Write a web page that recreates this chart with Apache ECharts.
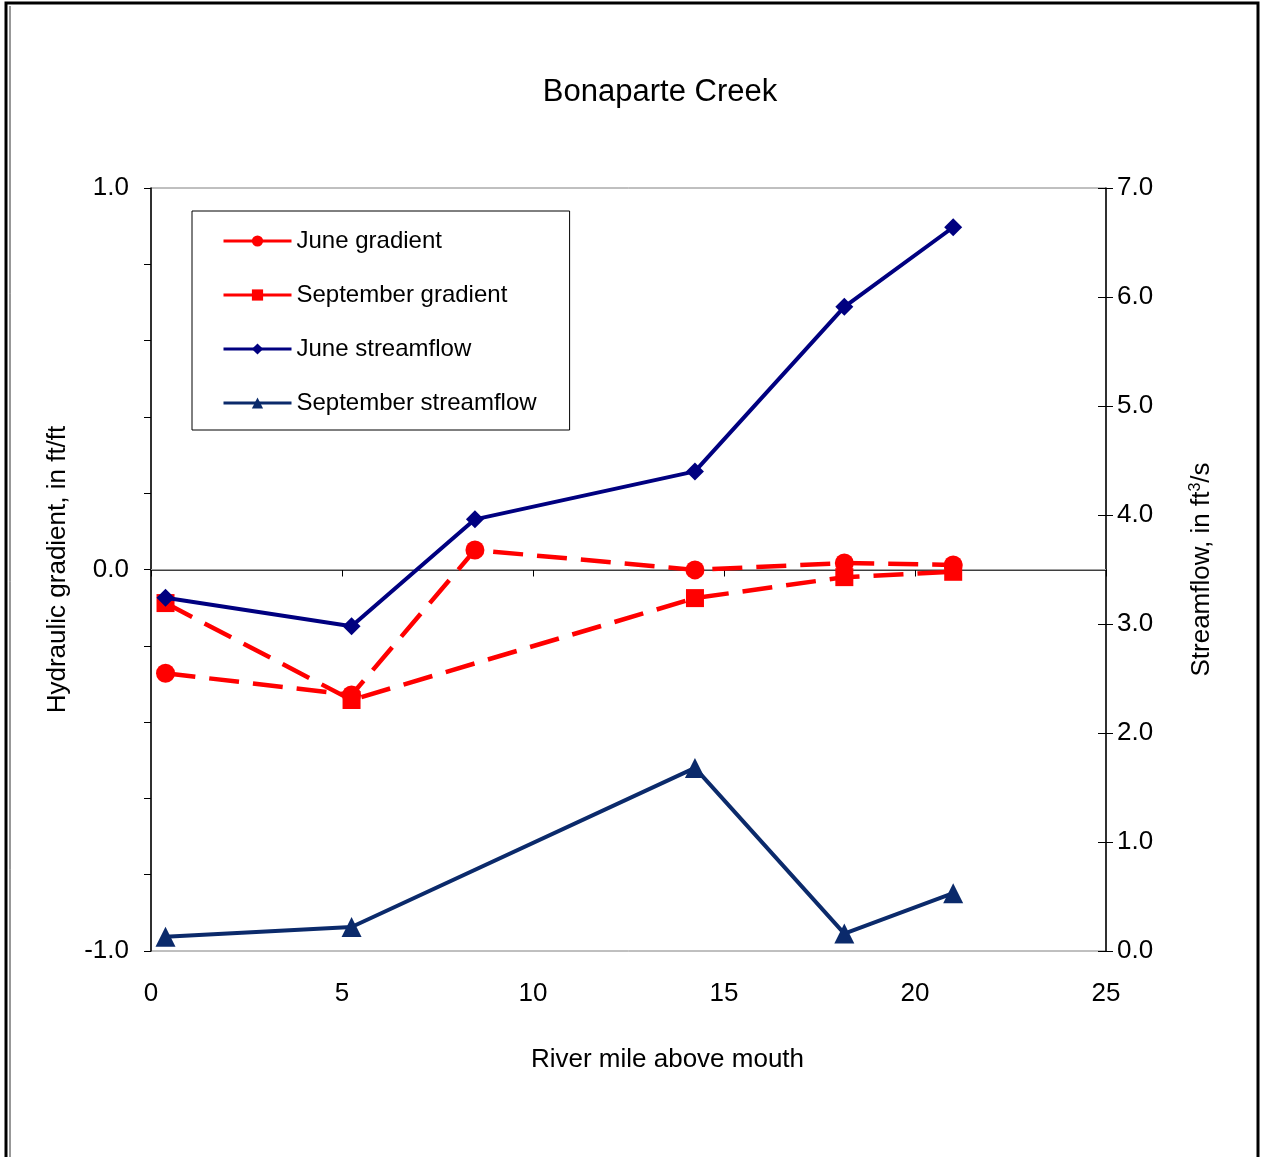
<!DOCTYPE html>
<html>
<head>
<meta charset="utf-8">
<script src="https://cdn.jsdelivr.net/npm/echarts@6/dist/echarts.min.js"></script>
<style>html,body{margin:0;padding:0;background:#fff}#c{width:1264px;height:1157px}</style>
</head>
<body>
<div id="c"></div>
<script>
var riverMileJune = [0.38, 5.25, 8.48, 14.24, 18.15, 21.0];
var riverMileSept = [0.38, 5.25, 14.24, 18.15, 21.0];
var juneGradient = [-0.272, -0.329, 0.051, -0.001, 0.017, 0.012];
var septGradient = [-0.088, -0.342, -0.075, -0.02, -0.006];
var juneStreamflow = [3.24, 2.98, 3.96, 4.40, 5.91, 6.64];
var septStreamflow = [0.13, 0.22, 1.68, 0.16, 0.53];
var seriesNames = ['June gradient', 'September gradient', 'June streamflow', 'September streamflow'];

function pairs(xs, ys) { return xs.map(function (x, i) { return [x, ys[i]]; }); }

var FONT = 'Liberation Sans, Arial, sans-serif';
var chart = echarts.init(document.getElementById('c'), null, {renderer: 'canvas'});
chart.setOption({
  backgroundColor: '#fff',
  animation: false,
  textStyle: {fontFamily: FONT, color: '#000'},
  title: {
    text: 'Bonaparte Creek', left: 655, top: 72, textAlign: 'center',
    textStyle: {fontFamily: FONT, fontSize: 31, fontWeight: 'normal', color: '#000'}
  },
  graphic: [
    {type: 'rect', shape: {x: 6, y: 3, width: 1252, height: 1200}, style: {fill: 'none', stroke: '#000', lineWidth: 3}, silent: true},
    {type: 'line', shape: {x1: 10, y1: 6, x2: 10, y2: 1157}, style: {stroke: '#333', lineWidth: 1}, silent: true}
  ],
  legend: {
    orient: 'vertical', left: 192, top: 211,
    padding: [18, 33, 15, 30],
    itemGap: 30, itemWidth: 68, itemHeight: 14,
    backgroundColor: '#fff', borderColor: '#000', borderWidth: 1,
    textStyle: {fontFamily: FONT, fontSize: 24, lineHeight: 24, color: '#000'},
    lineStyle: {type: 'solid', width: 3},
    data: seriesNames
  },
  grid: {left: 151, top: 188, right: 158, bottom: 206, show: true, borderColor: '#808080', borderWidth: 1, backgroundColor: 'transparent'},
  xAxis: {
    type: 'value', min: 0, max: 25, interval: 5,
    name: 'River mile above mouth', nameLocation: 'middle', nameGap: 96,
    nameTextStyle: {fontFamily: FONT, fontSize: 26, color: '#000', padding: [0, 0, 0, 78]},
    axisLine: {lineStyle: {color: '#000', width: 1.5}},
    axisTick: {show: true, inside: false, length: 7, lineStyle: {color: '#000'}},
    axisLabel: {fontFamily: FONT, fontSize: 26, color: '#000', margin: 30},
    splitLine: {show: false}
  },
  yAxis: [
    {
      type: 'value', position: 'left', min: -1, max: 1, interval: 1,
      name: 'Hydraulic gradient, in ft/ft', nameLocation: 'middle', nameGap: 80, nameRotate: 90,
      nameTextStyle: {fontFamily: FONT, fontSize: 26, color: '#000'},
      axisLine: {show: true, lineStyle: {color: '#000', width: 1.5}},
      axisTick: {show: true, inside: false, length: 7, lineStyle: {color: '#000'}},
      minorTick: {show: true, splitNumber: 5, length: 7, lineStyle: {color: '#000'}},
      axisLabel: {fontFamily: FONT, fontSize: 26, color: '#000', margin: 22, formatter: function (v) { return v.toFixed(1); }},
      splitLine: {show: false}
    },
    {
      type: 'value', position: 'right', min: 0, max: 7, interval: 1,
      name: 'Streamflow, in ft{sup|3}/s', nameLocation: 'middle', nameGap: 82, nameRotate: 90,
      nameTextStyle: {fontFamily: FONT, fontSize: 26, color: '#000', rich: {sup: {fontSize: 16, verticalAlign: 'top', padding: [0, 0, 12, 0], fontFamily: FONT}}},
      axisLine: {show: true, lineStyle: {color: '#000', width: 1.5}},
      axisTick: {show: true, inside: false, length: 7, lineStyle: {color: '#000'}},
      axisLabel: {fontFamily: FONT, fontSize: 26, color: '#000', margin: 11, formatter: function (v) { return v.toFixed(1); }},
      splitLine: {show: false}
    },
    {
      type: 'value', position: 'right', min: 0, max: 7, interval: 1,
      axisLine: {show: false},
      axisTick: {show: true, inside: true, length: 8, lineStyle: {color: '#000'}},
      axisLabel: {show: false},
      splitLine: {show: false}
    }
  ],
  series: [
    {
      name: seriesNames[0], type: 'line', yAxisIndex: 0, z: 3,
      data: pairs(riverMileJune, juneGradient),
      symbol: 'circle', symbolSize: 19,
      lineStyle: {color: '#FF0000', width: 4.5, type: [30, 14]},
      itemStyle: {color: '#FF0000'},
      markLine: {
        silent: true, symbol: 'none', z: 1,
        label: {show: false},
        lineStyle: {color: '#A0A0A0', width: 1, type: 'solid'},
        data: [{yAxis: 0}]
      }
    },
    {
      name: seriesNames[1], type: 'line', yAxisIndex: 0, z: 3,
      data: pairs(riverMileSept, septGradient),
      symbol: 'rect', symbolSize: 18,
      lineStyle: {color: '#FF0000', width: 4.5, type: [30, 14]},
      itemStyle: {color: '#FF0000'}
    },
    {
      name: seriesNames[2], type: 'line', yAxisIndex: 1, z: 4,
      data: pairs(riverMileJune, juneStreamflow),
      symbol: 'diamond', symbolSize: 18,
      lineStyle: {color: '#000080', width: 4},
      itemStyle: {color: '#000080'}
    },
    {
      name: seriesNames[3], type: 'line', yAxisIndex: 1, z: 4,
      data: pairs(riverMileSept, septStreamflow),
      symbol: 'triangle', symbolSize: 20,
      lineStyle: {color: '#0B2A6B', width: 4},
      itemStyle: {color: '#0B2A6B'}
    }
  ]
});
</script>
</body>
</html>
